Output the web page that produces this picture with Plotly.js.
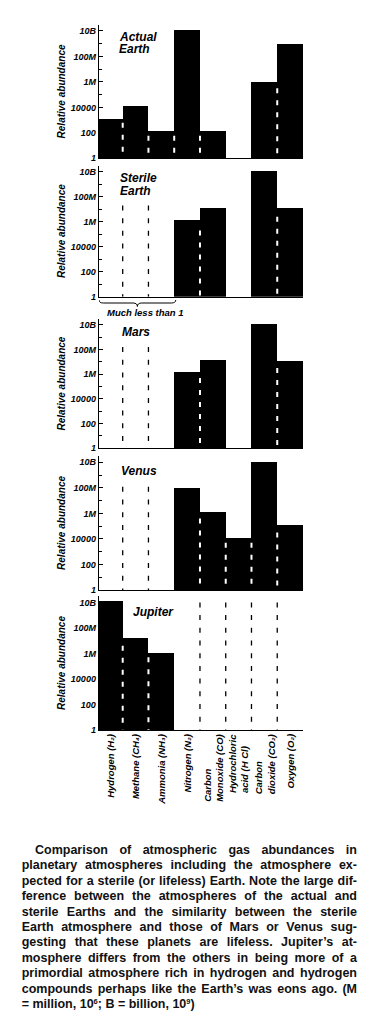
<!DOCTYPE html>
<html><head><meta charset="utf-8">
<script src="https://cdn.plot.ly/plotly-3.0.1.min.js"></script>
<style>
body{margin:0;background:#fff;width:374px;height:1024px;overflow:hidden;position:relative;font-family:"Liberation Sans",Arial,sans-serif;}
#chart{position:absolute;left:0;top:0;width:374px;height:840px;}
#caption{position:absolute;left:21.7px;top:843px;width:335.3px;font-size:12.5px;font-weight:bold;line-height:15.4px;color:#111;}
#caption .ln{text-align:justify;text-align-last:justify;}
#caption .ln.first{text-indent:13.3px;}
#caption .ln.last{text-align:left;text-align-last:left;}
#caption sup{font-size:0.6em;line-height:0;vertical-align:0.55em;}
</style>
</head><body>
<div id="chart"></div>
<div id="caption"></div>
<script>
// ---------- data ----------
const categories = ['Hydrogen (H\u2082)', 'Methane (CH\u2084)', 'Ammonia (NH\u2083)', 'Nitrogen (N\u2082)',
  'Carbon<br>Monoxide (CO)', 'Hydrochloric<br>acid (H Cl)', 'Carbon<br>dioxide (CO\u2082)', 'Oxygen (O\u2082)'];
const panelTitles = [['Actual', 'Earth'], ['Sterile', 'Earth'], ['Mars'], ['Venus'], ['Jupiter']];
const actualEarth  = [1200, 12000, 140, 1.1e10, 140, null, 1.0e6, 9e8];
const sterileEarth = [null, null, null, 1.3e6, 1.2e7, null, 1.25e10, 1.2e7];
const mars         = [null, null, null, 1.6e6, 1.45e7, null, 1.2e10, 1.2e7];
const venus        = [null, null, null, 1.0e8, 1.2e6, 1.1e4, 1.0e10, 1.2e5];
const jupiter      = [1.25e10, 1.5e7, 1.15e6, null, null, null, null, null];
// dashed dividers between neighbouring gases (boundary k sits between gas k and k+1): height reached
const actualEarthDividers  = [630, 60, 60, 60, null, null, 3.2e5];
const sterileEarthDividers = [2e7, 2e7, null, 2e5, null, null, 2.5e6];
const marsDividers         = [1.6e8, 1.6e8, null, 5e5, null, null, 3.2e6];
const venusDividers        = [1.2e8, 1.2e8, null, 4e5, 5e3, 5e3, 3.2e4];
const jupiterDividers      = [4e6, 5e5, null, 1e10, 1e10, 1e10, 1e10];
const tickVals = [1, 100, 1e4, 1e6, 1e8, 1e10];
const tickText = ['1', '100', '10000', '1M', '100M', '10B'];
const minorTickVals = [10, 1e3, 1e5, 1e7, 1e9];
const yTitle = 'Relative abundance';
const noteText = 'Much less than 1';
const captionLines = [
  'Comparison of atmospheric gas abundances in',
  'planetary atmospheres including the atmosphere ex-',
  'pected for a sterile (or lifeless) Earth. Note the large dif-',
  'ference between the atmospheres of the actual and',
  'sterile Earths and the similarity between the sterile',
  'Earth atmosphere and those of Mars or Venus sug-',
  'gesting that these planets are lifeless. Jupiter\u2019s at-',
  'mosphere differs from the others in being more of a',
  'primordial atmosphere rich in hydrogen and hydrogen',
  'compounds perhaps like the Earth\u2019s was eons ago. (M',
  '= million, 10<sup>6</sup>; B = billion, 10<sup>9</sup>)'
];

// ---------- layout helpers ----------
const series = [actualEarth, sterileEarth, mars, venus, jupiter];
const dividers = [actualEarthDividers, sterileEarthDividers, marsDividers, venusDividers, jupiterDividers];
const FONT = '"Liberation Sans", Arial, Helvetica, sans-serif';
const PAPER_TOP = 20, PAPER_BOTTOM = 730, PH = PAPER_BOTTOM - PAPER_TOP;
const PLOT_L = 99, PLOT_R = 303.5, PW = PLOT_R - PLOT_L;
const py = v => (PAPER_BOTTOM - v) / PH;       // pixel row -> paper fraction
const px = v => (v - PLOT_L) / PW;             // pixel column -> paper fraction
const panelTop = [24.6, 165.5, 318.8, 455.9, 596];
const panelBottom = [158.3, 296.7, 448.3, 590, 730];
const titleLeft = [118.3, 120, 121.7, 120.7, 132.7];
const titleCapTop = [32.3, 173.3, 327.7, 466.7, 607.7];

const traces = [];
const layout = {
  width: 374, height: 840,
  margin: {l: PLOT_L, r: 374 - PLOT_R, t: PAPER_TOP, b: 840 - PAPER_BOTTOM},
  paper_bgcolor: '#fff', plot_bgcolor: 'rgba(0,0,0,0)',
  showlegend: false, bargap: 0,
  font: {family: FONT, color: '#000'},
  annotations: [], shapes: []
};
const bi = {family: FONT, weight: 'bold', style: 'italic', color: '#000'};

series.forEach((vals, p) => {
  const n = p + 1, xs = n === 1 ? '' : String(n);
  const xa = 'x' + xs, ya = 'y' + xs;
  traces.push({type: 'bar', x: categories.map((c, i) => i), y: vals, width: 1,
    marker: {color: '#000', line: {width: 0}}, xaxis: xa, yaxis: ya, hoverinfo: 'skip'});
  // dividers
  const segW = {x: [], y: []}, segB = {x: [], y: []};
  dividers[p].forEach((top, k) => {
    if (top == null) return;
    const a = vals[k], b = vals[k + 1];
    const inside = a != null && b != null && a > top && b > top;
    const s = inside ? segW : segB;
    s.x.push(k + 0.5, k + 0.5, null);
    s.y.push(top, 1, null);
  });
  traces.push({type: 'scatter', mode: 'lines', x: segB.x, y: segB.y, xaxis: xa, yaxis: ya,
    line: {color: '#000', width: 1.3, dash: '5px,7.7px'}, hoverinfo: 'skip', connectgaps: false});
  traces.push({type: 'scatter', mode: 'lines', x: segW.x, y: segW.y, xaxis: xa, yaxis: ya,
    line: {color: '#fff', width: 2, dash: '5px,7px'}, hoverinfo: 'skip', connectgaps: false});

  const dom = [py(panelBottom[p]), py(panelTop[p])];
  layout['xaxis' + xs] = {domain: [0, 1], anchor: ya, range: [-0.42, 7.5], showline: true,
    linecolor: '#000', linewidth: 1, ticks: '', showticklabels: false, showgrid: false, zeroline: false, fixedrange: true};
  layout['yaxis' + xs] = {domain: dom, anchor: xa, type: 'log', range: [0, 10.5], showline: true,
    linecolor: '#000', linewidth: 1.3, ticks: 'inside', ticklen: 4, tickwidth: 1, tickcolor: '#000',
    tickmode: 'array', tickvals: tickVals, ticktext: tickText, tickfont: Object.assign({size: 9}, bi),
    minor: {tickmode: 'array', tickvals: minorTickVals, ticks: 'inside', ticklen: 3, tickwidth: 1, tickcolor: '#000', showgrid: false},
    showgrid: false, zeroline: false, fixedrange: true,
    title: {text: yTitle, font: Object.assign({size: 10}, bi), standoff: 3}};
  // panel title lines
  panelTitles[p].forEach((t, j) => {
    layout.annotations.push({xref: 'paper', yref: 'paper', x: px(titleLeft[p] - 1.5),
      y: py(titleCapTop[p] - 4.5 + j * 12.7), xanchor: 'left', yanchor: 'top',
      text: t, showarrow: false, font: Object.assign({size: 12}, bi)});
  });
});

// category labels under the bottom panel
categories.forEach((c, i) => {
  layout.annotations.push({xref: 'x5', yref: 'paper', x: i, y: py(732), xanchor: 'center', yanchor: 'top',
    textangle: -90, align: 'left', text: c, showarrow: false, font: Object.assign({size: 9.5}, bi)});
});
// "Much less than 1" brace + note under sterile Earth
const yT = py(300), yM = py(303), yB = py(306.5);
layout.shapes.push({type: 'path', xref: 'x2', yref: 'paper', line: {color: '#000', width: 1},
  path: `M -0.42 ${yT} Q -0.42 ${yM} -0.25 ${yM} L 0.9 ${yM} Q 1.07 ${yM} 1.07 ${yB} Q 1.07 ${yM} 1.24 ${yM} L 2.39 ${yM} Q 2.56 ${yM} 2.56 ${yT}`});
layout.annotations.push({xref: 'paper', yref: 'paper', x: px(105.5), y: py(305), xanchor: 'left', yanchor: 'top',
  text: noteText, showarrow: false, font: Object.assign({size: 9.5}, bi)});

Plotly.newPlot('chart', traces, layout, {staticPlot: true, displayModeBar: false});

// caption
const cap = document.getElementById('caption');
captionLines.forEach((l, i) => {
  const d = document.createElement('div');
  d.className = 'ln' + (i === 0 ? ' first' : '') + (i === captionLines.length - 1 ? ' last' : '');
  d.innerHTML = l;
  cap.appendChild(d);
});
</script>
</body></html>
